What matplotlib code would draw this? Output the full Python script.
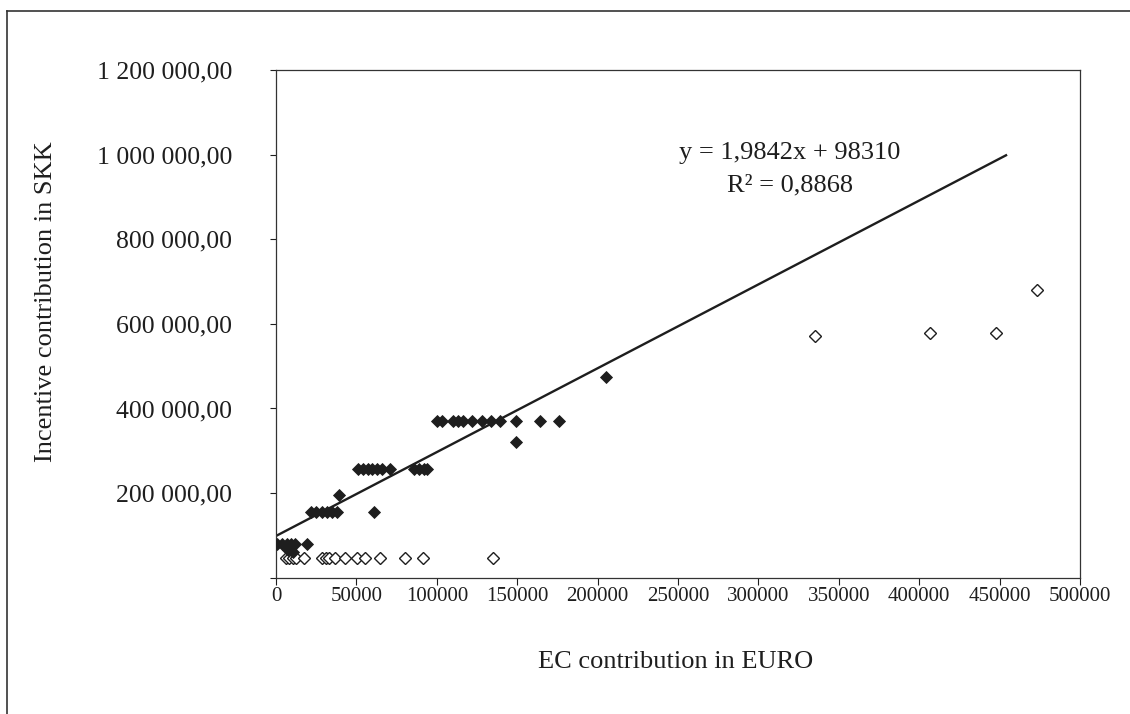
import matplotlib
matplotlib.use("Agg")
import matplotlib.pyplot as plt
from matplotlib.lines import Line2D
from matplotlib.ticker import FuncFormatter

plt.rcParams["font.family"] = ["Liberation Serif", "DejaVu Serif"]

# Projects with the fixed incentive steps (filled markers)
filled_x = [500, 3500, 6600, 9300, 12000, 19500, 7600, 10300, 8800,
            21600, 24700, 28800, 31900, 35000, 38100, 61000, 39000,
            51000, 54000, 57000, 60000, 63000, 66000, 71000, 86000, 89000, 92000, 94000,
            100000, 103000, 110000, 113000, 116000, 122000, 128000, 134000, 139000,
            149000, 164000, 176000, 149000, 205000]
filled_y = [80000, 80000, 80000, 80000, 80000, 80000, 65000, 60000, 70000,
            155000, 155000, 155000, 155000, 155000, 155000, 155000, 195000,
            257000, 257000, 257000, 257000, 257000, 257000, 257000, 257000, 257000, 257000, 257000,
            370000, 370000, 370000, 370000, 370000, 370000, 370000, 370000, 370000,
            370000, 370000, 370000, 320000, 474000]

# Remaining projects (open markers)
open_x = [6200, 8200, 10300, 12300, 17500, 28800, 30900, 32900, 37000, 43200,
          50400, 55600, 64800, 80300, 91600, 135200,
          335000, 407000, 448000, 473000]
open_y = [45000] * 16 + [572000, 578000, 579000, 680000]

# Linear trend reported on the chart
slope = 1.9842
intercept = 98310
r_squared = 0.8868
trend_x = [0, 454000]
trend_y = [slope * x + intercept for x in trend_x]

x_ticks = list(range(0, 500001, 50000))
y_ticks = list(range(0, 1200001, 200000))

W, H = 1130, 714
fig = plt.figure(figsize=(W / 100, H / 100), dpi=100)
ax = fig.add_axes([276 / W, 1 - 577.5 / H, (1080 - 276) / W, (577.5 - 70.4) / H])

ink = "#1e1e1e"

ax.plot(trend_x, trend_y, color=ink, linewidth=1.7, zorder=2)
ax.plot(open_x, open_y, linestyle="none", marker="D", markersize=6.5,
        markerfacecolor="white", markeredgecolor=ink, markeredgewidth=1.0, zorder=3)
ax.plot(filled_x, filled_y, linestyle="none", marker="D", markersize=6.6,
        markerfacecolor=ink, markeredgecolor=ink, markeredgewidth=0.6, zorder=4)

ax.set_xlim(0, 500000)
ax.set_ylim(0, 1200000)
ax.set_xticks(x_ticks)
ax.set_yticks(y_ticks)
ax.xaxis.set_major_formatter(FuncFormatter(lambda v, p: "%d" % v))
ax.yaxis.set_major_formatter(FuncFormatter(
    lambda v, p: "" if v == 0 else "{:,}".format(int(v)).replace(",", " ") + ",00"))

ax.tick_params(axis="x", direction="out", length=5, width=0.8, colors=ink,
               labelsize=15, pad=2)
ax.tick_params(axis="y", direction="out", length=4.5, width=0.8, colors=ink,
               labelsize=18.5, pad=27)
for s in ax.spines.values():
    s.set_linewidth(0.9)
    s.set_color("#333333")

ax.text(790 / W, 1 - 159 / H, "y = 1,9842x + 98310", transform=fig.transFigure,
        ha="center", va="baseline", fontsize=19, color=ink)
ax.text(790 / W, 1 - 191 / H, "R² = 0,8868", transform=fig.transFigure,
        ha="center", va="baseline", fontsize=19, color=ink)

fig.text(676 / W, 1 - 662 / H, "EC contribution in EURO", ha="center", va="center",
         fontsize=19, color=ink)
fig.text(46 / W, 1 - 302 / H, "Incentive contribution in SKK", ha="center", va="center",
         rotation=90, fontsize=19, color=ink)

# Frame around the chart area
fig.add_artist(Line2D([7 / W, 1], [1 - 11 / H, 1 - 11 / H], transform=fig.transFigure,
                      color="#333333", linewidth=1.2))
fig.add_artist(Line2D([7 / W, 7 / W], [0, 1 - 11 / H], transform=fig.transFigure,
                      color="#333333", linewidth=1.2))

fig.savefig("out.png", dpi=100)
